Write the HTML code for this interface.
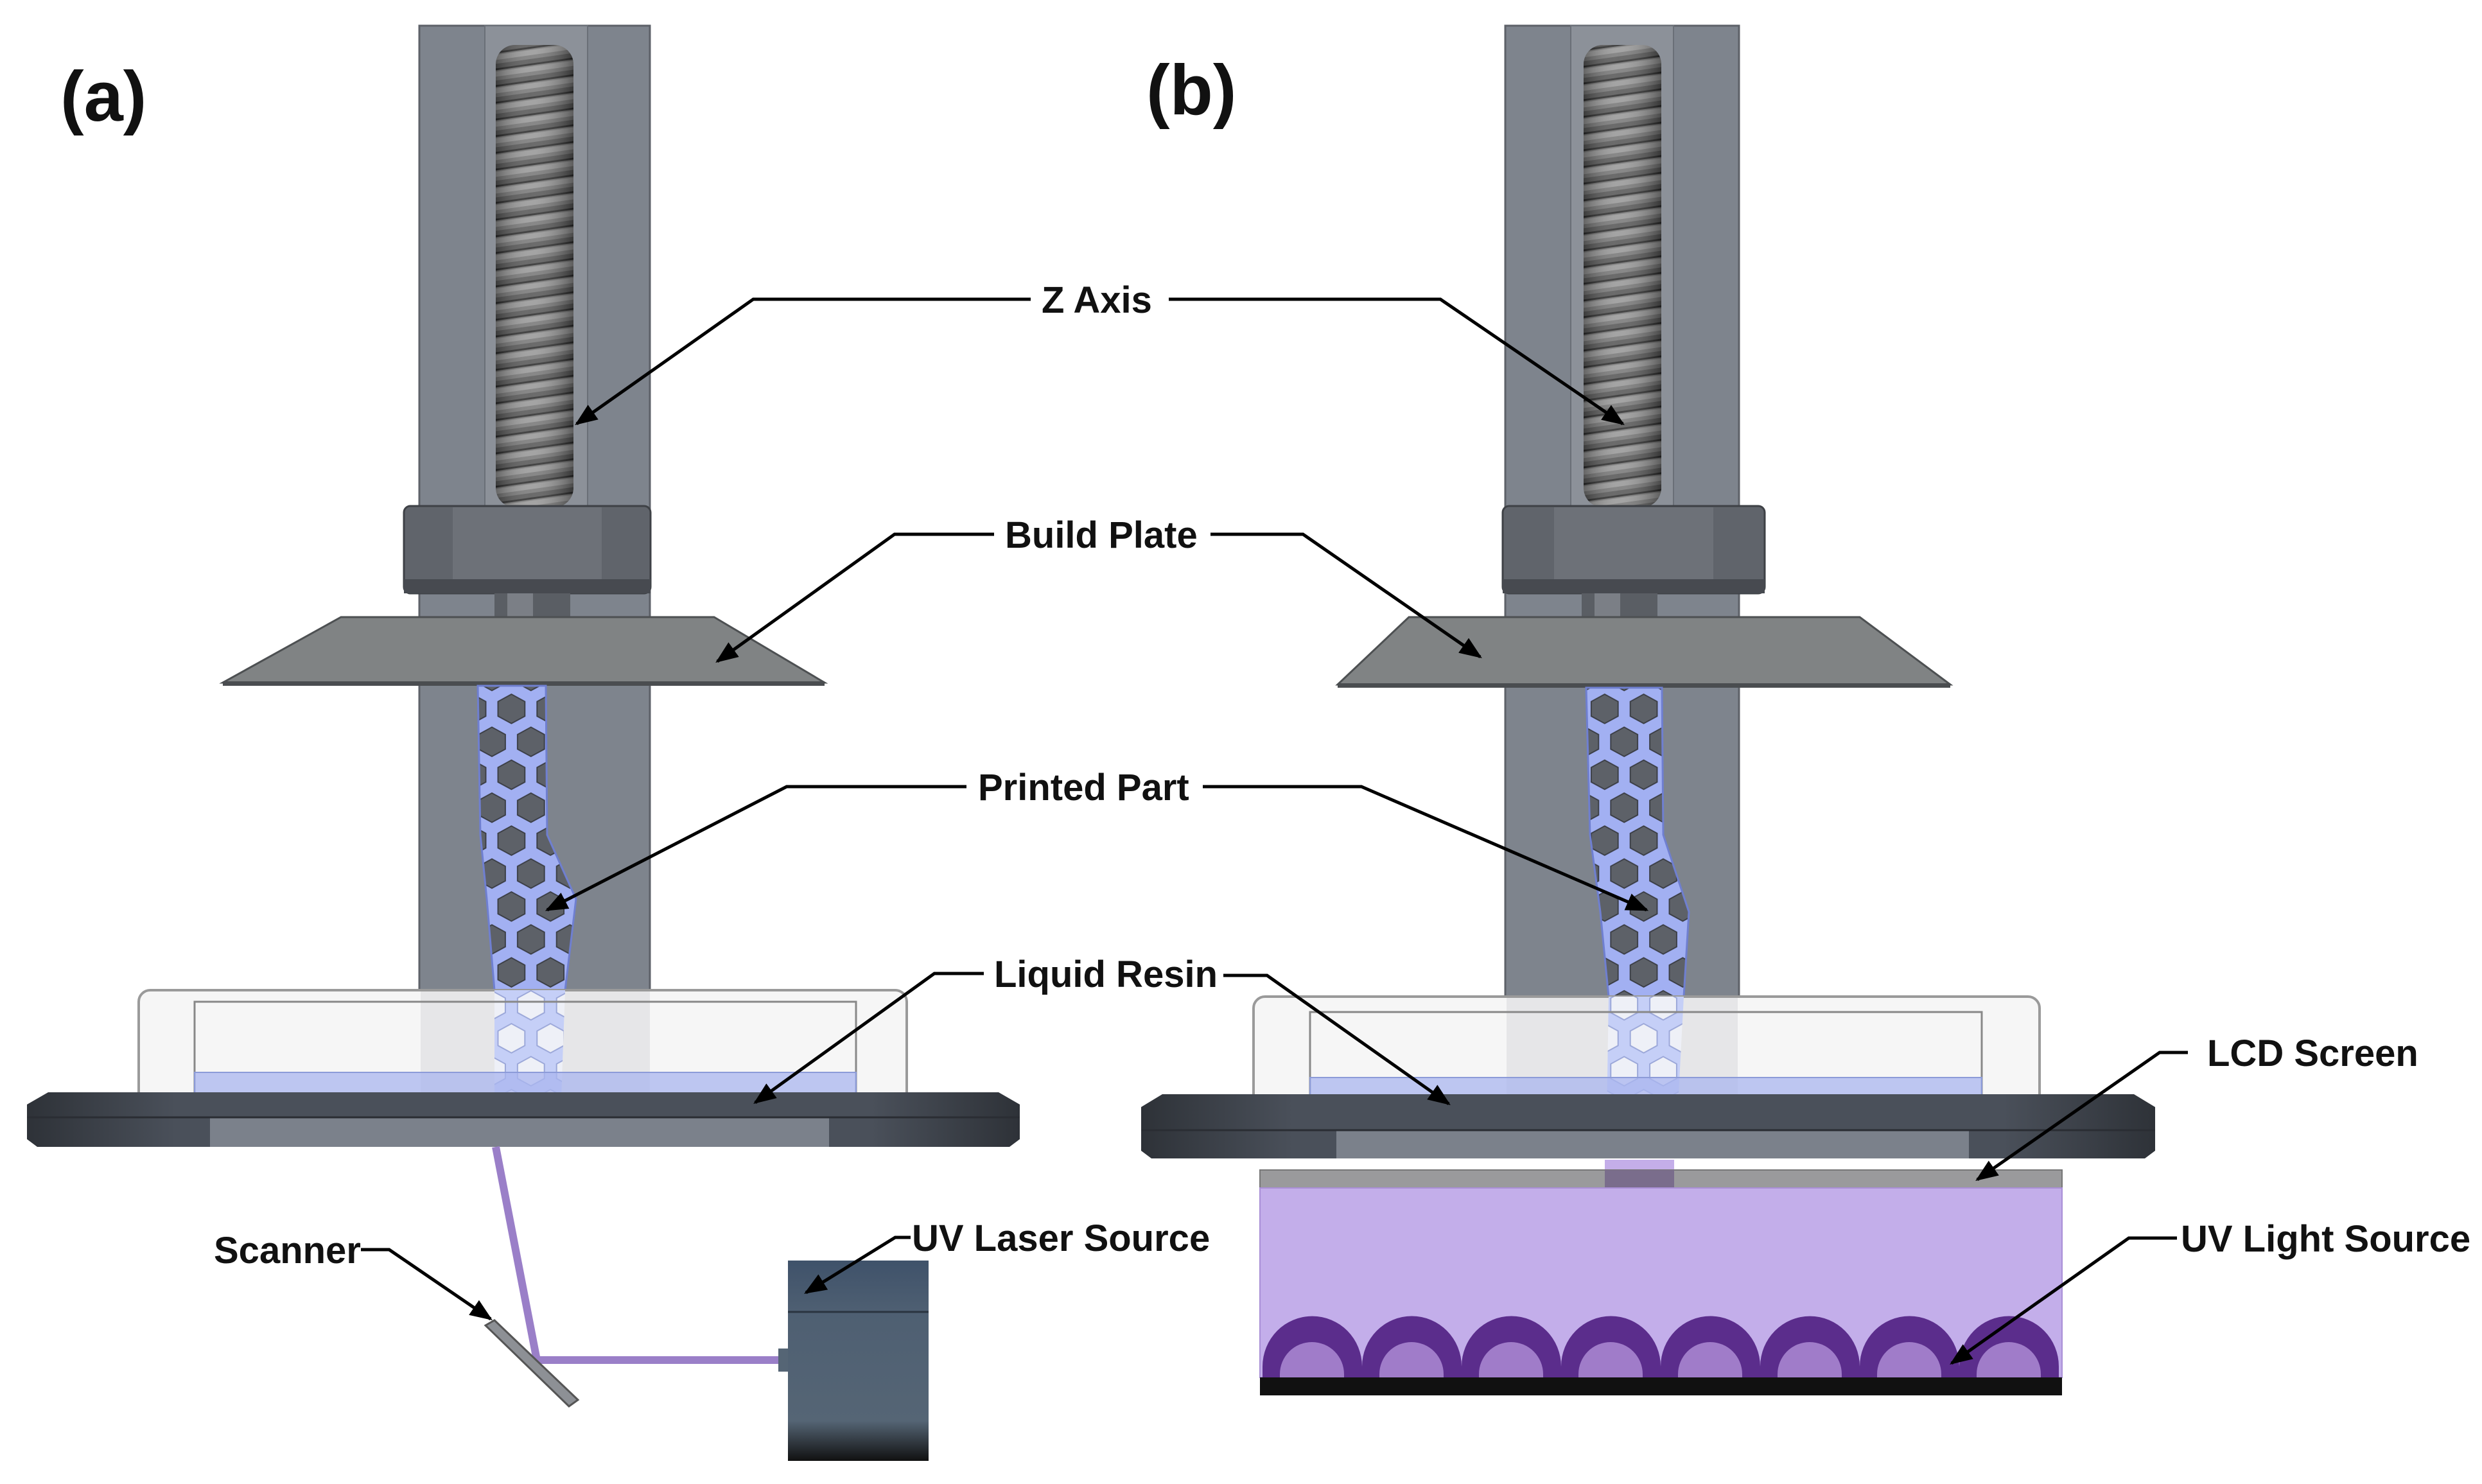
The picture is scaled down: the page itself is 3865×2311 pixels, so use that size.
<!DOCTYPE html>
<html><head><meta charset="utf-8"><style>
html,body{margin:0;padding:0;background:#fff;}
svg{display:block;}
text{font-family:"Liberation Sans",Arial,sans-serif;font-weight:bold;fill:#111;}
</style></head><body>
<svg width="3865" height="2311" viewBox="0 0 3865 2311" xmlns="http://www.w3.org/2000/svg">
<defs>
<pattern id="thread" patternUnits="userSpaceOnUse" width="40" height="26" patternTransform="skewY(-8)">
<rect width="40" height="26" fill="#7a7a7a"/>
<rect y="0" width="40" height="7" fill="#5a5a5a"/>
<rect y="7" width="40" height="3" fill="#2e2e2e"/>
<rect y="12" width="40" height="8" fill="#9a9a9a"/>
</pattern>
<linearGradient id="screwShade" x1="0" x2="1" y1="0" y2="0">
<stop offset="0" stop-color="#000" stop-opacity="0.35"/>
<stop offset="0.45" stop-color="#fff" stop-opacity="0.1"/>
<stop offset="1" stop-color="#000" stop-opacity="0.4"/>
</linearGradient>
<pattern id="hex" patternUnits="userSpaceOnUse" width="32" height="54" patternTransform="translate(6,0) scale(1.9)">
<rect width="32" height="54" fill="#a2b0f2"/>
<polygon points="16,2 27,8 27,20 16,26 5,20 5,8" fill="#5d6168" stroke="#3a3d44" stroke-width="1"/>
<polygon points="0,29 11,35 11,47 0,53 -11,47 -11,35" fill="#5d6168" stroke="#3a3d44" stroke-width="1"/>
<polygon points="32,29 43,35 43,47 32,53 21,47 21,35" fill="#5d6168" stroke="#3a3d44" stroke-width="1"/>
</pattern>
<pattern id="hexL" patternUnits="userSpaceOnUse" width="32" height="54" patternTransform="translate(6,0) scale(1.9)">
<rect width="32" height="54" fill="#c5cff7"/>
<polygon points="16,2 27,8 27,20 16,26 5,20 5,8" fill="#eef0f7" stroke="#9aa6d8" stroke-width="1"/>
<polygon points="0,29 11,35 11,47 0,53 -11,47 -11,35" fill="#eef0f7" stroke="#9aa6d8" stroke-width="1"/>
<polygon points="32,29 43,35 43,47 32,53 21,47 21,35" fill="#eef0f7" stroke="#9aa6d8" stroke-width="1"/>
</pattern>
<linearGradient id="baseG" x1="0" x2="1">
<stop offset="0" stop-color="#2e3238"/><stop offset="0.15" stop-color="#4a505a"/>
<stop offset="0.85" stop-color="#4a505a"/><stop offset="1" stop-color="#2e3238"/>
</linearGradient>
<linearGradient id="laserG" x1="0" y1="0" x2="0" y2="1">
<stop offset="0" stop-color="#3f526a"/><stop offset="0.25" stop-color="#4e5f72"/>
<stop offset="0.8" stop-color="#556575"/><stop offset="1" stop-color="#111"/>
</linearGradient>
<marker id="arr" viewBox="0 0 10 10" refX="9" refY="5" markerWidth="7" markerHeight="7" orient="auto" markerUnits="strokeWidth">
<path d="M0,1 L10,5 L0,9 z" fill="#000"/>
</marker>
</defs>

<!-- ========== PANEL A ========== -->
<text x="94" y="188" font-size="110">(a)</text>
<rect x="653" y="40" width="359" height="1502" fill="#7e848d" stroke="#5d6168" stroke-width="3"/>
<rect x="755" y="40" width="160" height="760" fill="#8c9199" stroke="#6a6f77" stroke-width="2"/>
<rect x="772" y="70" width="121" height="720" rx="30" fill="url(#thread)"/>
<rect x="772" y="70" width="121" height="720" rx="30" fill="url(#screwShade)"/>
<rect x="629" y="788" width="384" height="136" rx="10" fill="#60646b" stroke="#3e4146" stroke-width="3"/>
<rect x="705" y="790" width="232" height="130" fill="#6d7178"/>
<rect x="629" y="902" width="384" height="22" fill="#474a50"/>
<rect x="770" y="924" width="118" height="37" fill="#5a5e64"/>
<rect x="790" y="924" width="40" height="37" fill="#7b7f86"/>
<polygon points="531,961 1112,961 1284,1063 347,1063" fill="#808384" stroke="#4d5052" stroke-width="3"/>
<rect x="347" y="1061" width="937" height="7" fill="#4a4d50"/>
<path d="M744,1068 L850,1068 L852,1300 L897,1400 L880,1542 L770,1542 L758,1400 L748,1300 Z" fill="url(#hex)" stroke="#6f7fd0" stroke-width="3"/>
<rect x="216" y="1542" width="1196" height="195" rx="18" fill="#f2f2f2" fill-opacity="0.7" stroke="#9a9a9a" stroke-width="4"/>
<rect x="655" y="1544" width="357" height="190" fill="#e6e6e8"/>
<path d="M770,1542 L880,1542 L873,1737 L770,1737 Z" fill="url(#hexL)"/>
<rect x="303" y="1560" width="1030" height="177" fill="none" stroke="#888" stroke-width="3"/>
<rect x="303" y="1670" width="1030" height="64" fill="#a9b6ef" fill-opacity="0.75" stroke="#8c9bd8" stroke-width="2"/>
<polygon points="75,1701 1555,1701 1588,1720 1588,1774 1572,1786 58,1786 42,1774 42,1720" fill="url(#baseG)"/>
<rect x="327" y="1740" width="964" height="46" fill="#7b818b"/>
<line x1="42" y1="1740" x2="1588" y2="1740" stroke="#2a2d33" stroke-width="3"/>
<polyline points="772,1786 836,2118 1212,2118" fill="none" stroke="#9a7fc8" stroke-width="12"/>
<polygon points="756,2064 770,2056 900,2180 886,2190" fill="#8d9095" stroke="#555" stroke-width="3"/>
<rect x="1227" y="1963" width="219" height="312" fill="url(#laserG)"/>
<line x1="1227" y1="2043" x2="1446" y2="2043" stroke="#2a3440" stroke-width="3"/>
<rect x="1212" y="2100" width="15" height="36" fill="#556575"/>

<!-- ========== PANEL B ========== -->
<text x="1785" y="178" font-size="110">(b)</text>
<rect x="2344" y="40" width="364" height="1512" fill="#7e848d" stroke="#5d6168" stroke-width="3"/>
<rect x="2446" y="40" width="160" height="760" fill="#8c9199" stroke="#6a6f77" stroke-width="2"/>
<rect x="2466" y="70" width="121" height="720" rx="30" fill="url(#thread)"/>
<rect x="2466" y="70" width="121" height="720" rx="30" fill="url(#screwShade)"/>
<rect x="2340" y="788" width="408" height="136" rx="10" fill="#60646b" stroke="#3e4146" stroke-width="3"/>
<rect x="2420" y="790" width="248" height="130" fill="#6d7178"/>
<rect x="2340" y="902" width="408" height="22" fill="#474a50"/>
<rect x="2463" y="924" width="118" height="37" fill="#5a5e64"/>
<rect x="2483" y="924" width="40" height="37" fill="#7b7f86"/>
<polygon points="2194,961 2896,961 3037,1066 2083,1066" fill="#808384" stroke="#4d5052" stroke-width="3"/>
<rect x="2083" y="1064" width="954" height="7" fill="#4a4d50"/>
<path d="M2470,1071 L2588,1071 L2590,1300 L2630,1420 L2622,1552 L2505,1552 L2492,1420 L2476,1300 Z" fill="url(#hex)" stroke="#6f7fd0" stroke-width="3"/>
<rect x="1952" y="1552" width="1224" height="203" rx="18" fill="#f2f2f2" fill-opacity="0.7" stroke="#9a9a9a" stroke-width="4"/>
<rect x="2346" y="1554" width="360" height="195" fill="#e6e6e8"/>
<path d="M2505,1552 L2622,1552 L2612,1740 L2502,1740 Z" fill="url(#hexL)"/>
<rect x="2040" y="1576" width="1046" height="179" fill="none" stroke="#888" stroke-width="3"/>
<rect x="2040" y="1678" width="1046" height="75" fill="#a9b6ef" fill-opacity="0.75" stroke="#8c9bd8" stroke-width="2"/>
<rect x="2499" y="1736" width="108" height="12" fill="#5b3fa0"/>
<polygon points="1810,1704 3323,1704 3356,1724 3356,1792 3340,1804 1793,1804 1777,1792 1777,1724" fill="url(#baseG)"/>
<rect x="2081" y="1760" width="985" height="44" fill="#7b818b"/>
<line x1="1777" y1="1760" x2="3356" y2="1760" stroke="#2a2d33" stroke-width="3"/>
<rect x="2499" y="1806" width="108" height="20" fill="#c4aee9"/>
<rect x="1962" y="1822" width="1249" height="28" fill="#9a9a9c" stroke="#777" stroke-width="2"/>
<rect x="2499" y="1822" width="108" height="28" fill="#7a6d8c"/>
<rect x="1962" y="1850" width="1249" height="295" fill="#c3aeea" stroke="#a98fd6" stroke-width="2"/>
<g>
<path d="M1966,2145 L1966,2128 A77,78 0 0 1 2121,2128 L2121,2145 Z" fill="#5b2d8c"/>
<path d="M2121,2145 L2121,2128 A77,78 0 0 1 2276,2128 L2276,2145 Z" fill="#5b2d8c"/>
<path d="M2276,2145 L2276,2128 A77,78 0 0 1 2431,2128 L2431,2145 Z" fill="#5b2d8c"/>
<path d="M2431,2145 L2431,2128 A77,78 0 0 1 2586,2128 L2586,2145 Z" fill="#5b2d8c"/>
<path d="M2586,2145 L2586,2128 A77,78 0 0 1 2741,2128 L2741,2145 Z" fill="#5b2d8c"/>
<path d="M2741,2145 L2741,2128 A77,78 0 0 1 2896,2128 L2896,2145 Z" fill="#5b2d8c"/>
<path d="M2896,2145 L2896,2128 A77,78 0 0 1 3051,2128 L3051,2145 Z" fill="#5b2d8c"/>
<path d="M3051,2145 L3051,2128 A77,78 0 0 1 3206,2128 L3206,2145 Z" fill="#5b2d8c"/>
</g>
<g fill="#a07cc9">
<path d="M1993,2145 L1993,2140 A50,50 0 0 1 2093,2140 L2093,2145 Z"/>
<path d="M2148,2145 L2148,2140 A50,50 0 0 1 2248,2140 L2248,2145 Z"/>
<path d="M2303,2145 L2303,2140 A50,50 0 0 1 2403,2140 L2403,2145 Z"/>
<path d="M2458,2145 L2458,2140 A50,50 0 0 1 2558,2140 L2558,2145 Z"/>
<path d="M2613,2145 L2613,2140 A50,50 0 0 1 2713,2140 L2713,2145 Z"/>
<path d="M2768,2145 L2768,2140 A50,50 0 0 1 2868,2140 L2868,2145 Z"/>
<path d="M2923,2145 L2923,2140 A50,50 0 0 1 3023,2140 L3023,2145 Z"/>
<path d="M3078,2145 L3078,2140 A50,50 0 0 1 3178,2140 L3178,2145 Z"/>
</g>
<rect x="1962" y="2145" width="1249" height="28" fill="#111"/>

<g stroke="#000" stroke-width="5" fill="none" marker-end="url(#arr)">
<polyline points="1605,466 1173,466 898,660"/>
<polyline points="1820,466 2243,466 2527,660"/>
<polyline points="1548,832 1393,832 1117,1030"/>
<polyline points="1885,832 2029,832 2305,1023"/>
<polyline points="1505,1225 1225,1225 852,1417"/>
<polyline points="1873,1225 2120,1225 2564,1417"/>
<polyline points="1532,1516 1455,1516 1176,1717"/>
<polyline points="1905,1519 1973,1519 2256,1719"/>
<polyline points="562,1946 606,1946 764,2054"/>
<polyline points="1418,1927 1394,1927 1255,2013"/>
<polyline points="3407,1639 3363,1639 3079,1837"/>
<polyline points="3390,1928 3315,1928 3039,2123"/>
</g>
<g font-size="58">
<text x="1622" y="487">Z Axis</text>
<text x="1565" y="853">Build Plate</text>
<text x="1523" y="1246">Printed Part</text>
<text x="1548" y="1537">Liquid Resin</text>
<text x="333" y="1967">Scanner</text>
<text x="1420" y="1948">UV Laser Source</text>
<text x="3437" y="1660">LCD Screen</text>
<text x="3396" y="1949">UV Light Source</text>
</g>
</svg>
</body></html>
